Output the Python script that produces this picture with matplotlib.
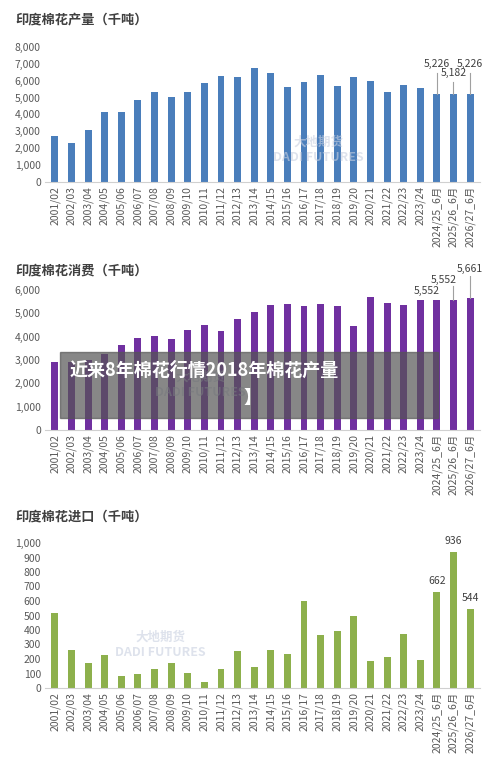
import matplotlib.pyplot as plt
import matplotlib.patches as mpatches

plt.rcParams['font.family'] = ['Noto Sans CJK SC', 'DejaVu Sans']

seasons = ['2001/02', '2002/03', '2003/04', '2004/05', '2005/06', '2006/07', '2007/08',
           '2008/09', '2009/10', '2010/11', '2011/12', '2012/13', '2013/14', '2014/15',
           '2015/16', '2016/17', '2017/18', '2018/19', '2019/20', '2020/21', '2021/22',
           '2022/23', '2023/24', '2024/25_6月', '2025/26_6月', '2026/27_6月']
production = [2700, 2300, 3050, 4150, 4150, 4850, 5300, 5050, 5300, 5850, 6300, 6230, 6750,
              6450, 5650, 5900, 6350, 5680, 6220, 6000, 5320, 5750, 5550, 5226, 5182, 5226]
consumption = [2900, 2900, 3000, 3250, 3650, 3950, 4050, 3900, 4300, 4500, 4250, 4750, 5050,
               5350, 5400, 5330, 5400, 5300, 4470, 5680, 5450, 5350, 5552, 5552, 5552, 5661]
imports = [520, 265, 175, 225, 85, 100, 130, 175, 105, 40, 130, 255, 145, 265, 235, 600,
           365, 390, 500, 185, 215, 375, 195, 662, 936, 544]

W, H = 500, 771
fig = plt.figure(figsize=(W / 100, H / 100), dpi=100)


def px_axes(left, top, right, bottom):
    return fig.add_axes([left / W, 1 - bottom / H, (right - left) / W, (bottom - top) / H])


def panel(top, bottom, values, color, ymax, step, title, title_y, fmt):
    ax = px_axes(45, top, 480, bottom)
    x = range(len(values))
    ax.bar(x, values, width=0.42, color=color)
    ax.set_xlim(-0.6, len(values) - 0.4)
    ax.set_ylim(0, ymax)
    ax.set_yticks(range(0, int(step * (ymax // step)) + 1, step))
    ax.set_yticklabels([fmt.format(v) for v in ax.get_yticks()], fontsize=7.5, color='#595959')
    ax.set_xticks(list(x))
    ax.set_xticklabels(seasons, rotation=90, fontsize=7.5, color='#595959')
    for s in ['top', 'right', 'left']:
        ax.spines[s].set_visible(False)
    ax.spines['bottom'].set_color('#d0d0d0')
    ax.tick_params(length=0, pad=3)
    fig.text(15 / W, 1 - title_y / H, title, fontsize=9.5, fontweight='bold',
             color='#404040', va='center')
    return ax


ax1 = panel(46, 182, production, '#4a7ebb', 8000, 1000, '印度棉花产量（千吨）', 19, '{:,.0f}')
ax1.set_ylim(0, 8050)
for i, ty in [(23, 6700), (24, 6150), (25, 6700)]:
    v = production[i]
    if ty - v > 700:
        ax1.plot([i, i], [v, ty - 250], color='#a0a0a0', lw=0.8)
    ax1.text(i + (0 if i != 24 else 0), ty, f'{v:,}', ha='center', va='bottom',
             fontsize=7.5, color='#404040')

ax2 = panel(276, 430, consumption, '#7030a0', 6600, 1000, '印度棉花消费（千吨）', 270, '{:,.0f}')
for i, ty in [(23, 5752), (24, 6220), (25, 6700)]:
    v = consumption[i]
    if ty - v > 400:
        ax2.plot([i, i], [v, ty - 30], color='#a0a0a0', lw=0.8)
    ax2.text(i - (0.6 if i != 25 else 0), ty, f'{v:,}', ha='center', va='bottom',
             fontsize=7.5, color='#404040')

ax3 = panel(543, 688, imports, '#8db04c', 1000, 100, '印度棉花进口（千吨）', 516, '{:,.0f}')
for i in [23, 24, 25]:
    ax3.text(i, imports[i] + 40, f'{imports[i]:,}', ha='center', va='bottom',
             fontsize=7.5, color='#404040')

# watermarks
for wx, wy in [(318, 150), (200, 385), (160, 645)]:
    fig.text(wx / W, 1 - wy / H, '大地期货\nDADI FUTURES', fontsize=9, color='#c8d0e0',
             alpha=0.6, ha='center', va='center', fontweight='bold')

# overlay banner
fig.patches.append(mpatches.Rectangle((60 / W, 1 - 418 / H), 378 / W, 66 / H,
                                      transform=fig.transFigure, color='#555555',
                                      alpha=0.7, zorder=5))
fig.text(70 / W, 1 - 370 / H, '近来8年棉花行情2018年棉花产量', fontsize=13, fontweight='bold',
         color='white', va='center', zorder=6)
fig.text(243 / W, 1 - 397 / H, '】', fontsize=13, fontweight='bold', color='white',
         va='center', zorder=6)

fig.savefig('out.png', dpi=100, facecolor='white')
